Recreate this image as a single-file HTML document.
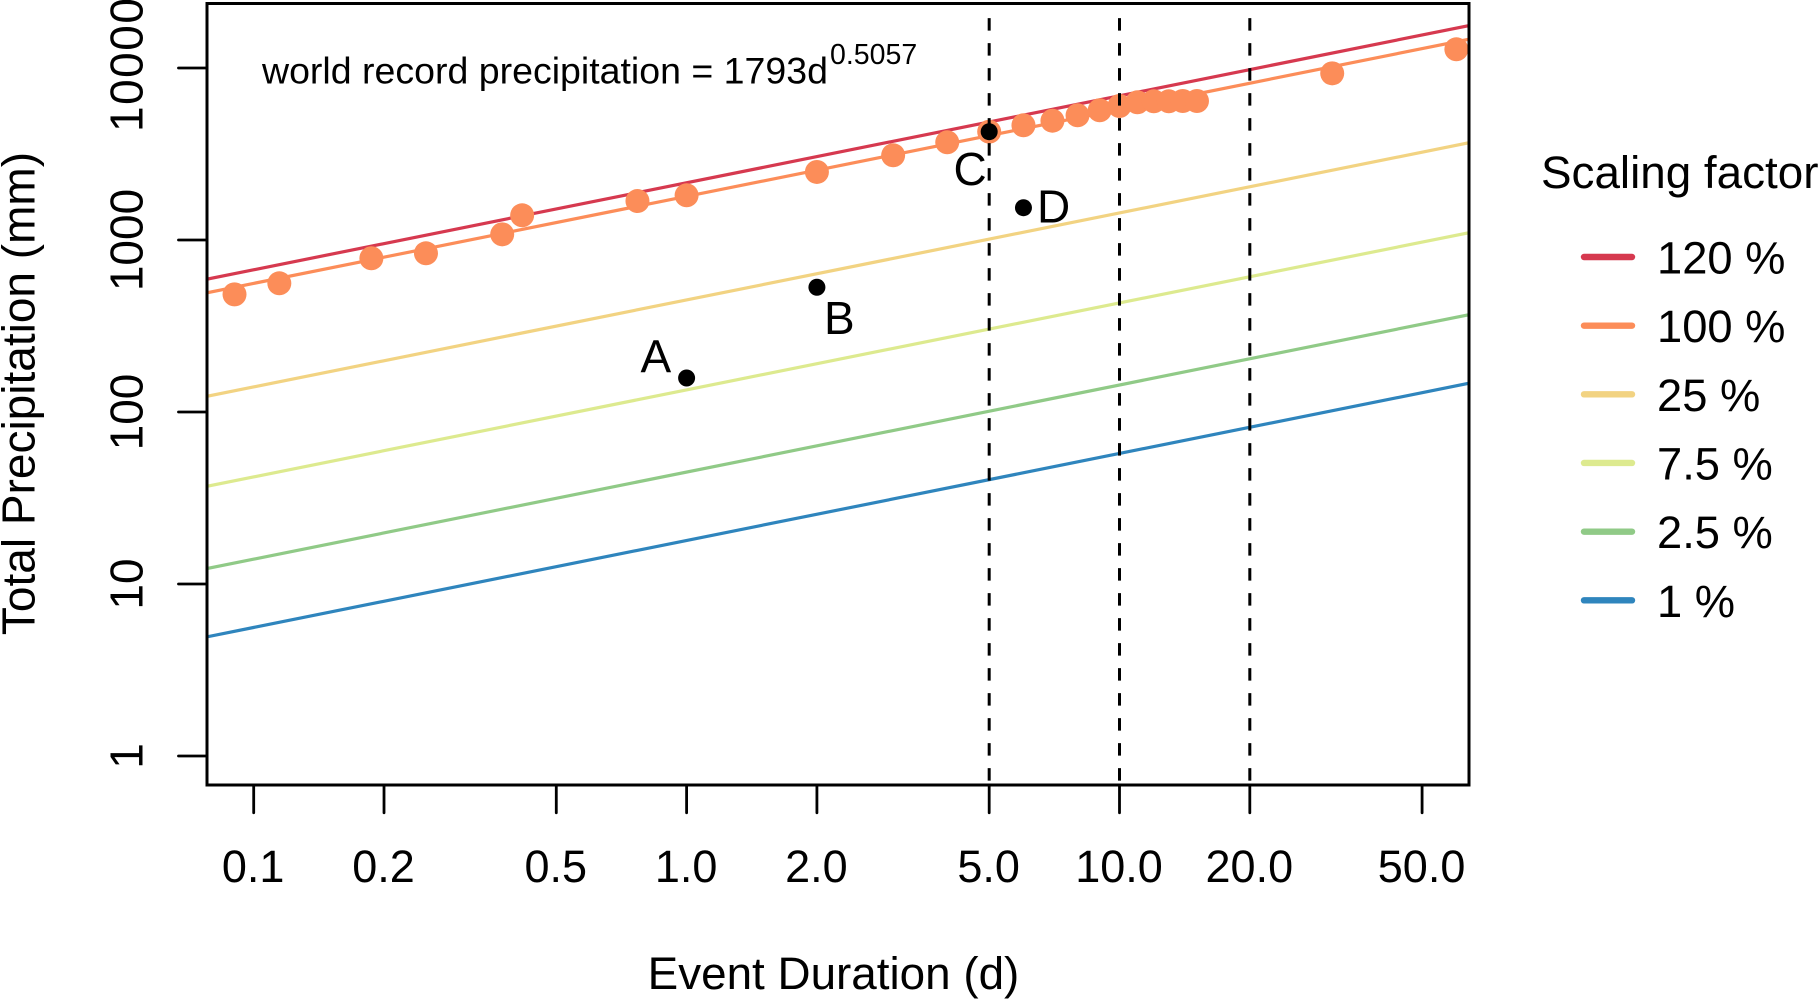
<!DOCTYPE html>
<html lang="en">
<head>
<meta charset="utf-8">
<title>World record precipitation scaling</title>
<style>
html,body{margin:0;padding:0;background:#fff;width:1818px;height:999px;overflow:hidden}
svg{display:block}
text{font-family:"Liberation Sans",Arial,sans-serif;fill:#000}
</style>
</head>
<body>
<svg id="chart" xmlns="http://www.w3.org/2000/svg" width="1818" height="999" viewBox="0 0 1818 999">
  <defs>
    <clipPath id="plot-clip"><rect x="207" y="3.5" width="1262" height="781.5"/></clipPath>
  </defs>
  <g id="lines" clip-path="url(#plot-clip)"></g>
  <g id="points" clip-path="url(#plot-clip)"></g>
  <g id="events" clip-path="url(#plot-clip)"></g>
  <g id="dashes"></g>
  <rect x="207" y="3.5" width="1262" height="781.5" fill="none" stroke="#000" stroke-width="3"/>
  <g id="x-axis"></g>
  <g id="y-axis"></g>
  <text x="833.5" y="989" font-size="45.8" text-anchor="middle">Event Duration (d)</text>
  <text transform="translate(34.5,393.5) rotate(-90)" font-size="46" text-anchor="middle">Total Precipitation (mm)</text>
  <text x="262" y="83.3" font-size="37.5">world record precipitation = 1793d</text>
  <text x="830" y="64" font-size="28.5">0.5057</text>
  <text x="1541" y="188" font-size="45.8">Scaling factor</text>
  <g id="legend"></g>
</svg>
<script>
// Axis ticks
const xTickValues = [0.1, 0.2, 0.5, 1, 2, 5, 10, 20, 50];
const xTickLabels = ["0.1", "0.2", "0.5", "1.0", "2.0", "5.0", "10.0", "20.0", "50.0"];
const yTickValues = [1, 10, 100, 1000, 10000];
const yTickLabels = ["1", "10", "100", "1000", "10000"];

// Scaling lines: values at the two ends of the plotted duration range
const lineDurations = [0.078, 64.2];
const line120 = [592, 17650];
const line100 = [493.5, 14710];
const line25 = [123.4, 3678];
const line7p5 = [37, 1103];
const line2p5 = [12.3, 368];
const line1 = [4.93, 147];
const seriesNames = ["120 %", "100 %", "25 %", "7.5 %", "2.5 %", "1 %"];
const seriesColors = ["#D6394F", "#FC8D59", "#F2D382", "#DDEA8F", "#90CA87", "#2F85BD"];
const seriesValues = [line120, line100, line25, line7p5, line2p5, line1];

// World record observations
const recordDurations = [0.0903, 0.1146, 0.187, 0.25, 0.375, 0.417, 0.77, 1, 2, 3, 4, 5, 6, 7, 8, 9, 10, 11, 12, 13, 14, 15.1, 31, 60];
const recordValues = [483, 560, 783, 837, 1079, 1392, 1685, 1819, 2486, 3108, 3698, 4263, 4645, 4938, 5309, 5677, 6012, 6318, 6403, 6403, 6430, 6430, 9311, 12848];

// Labelled events
const eventLabels = ["A", "B", "C", "D"];
const eventDurations = [1, 2, 5, 6];
const eventValues = [157.6, 531, 4263, 1541];

// Dashed reference lines
const dashDurations = [5, 10, 20];
const dashValueRange = [0.678, 19500];

const SVG_NS = "http://www.w3.org/2000/svg";
function xScale(d) { return 686.6 + 432.9 * Math.log10(d); }
function yScale(v) { return 756 - 172 * Math.log10(v); }
function make(tag, attrs, parent, txt) {
  const el = document.createElementNS(SVG_NS, tag);
  for (const k in attrs) el.setAttribute(k, attrs[k]);
  if (txt !== undefined) el.textContent = txt;
  parent.appendChild(el);
  return el;
}

const eventLabelPos = [[640.5, 372.7], [824, 334], [953.5, 185], [1037, 222.7]];

const linesG = document.getElementById("lines");
const pointsG = document.getElementById("points");
const eventsG = document.getElementById("events");
const dashesG = document.getElementById("dashes");
const xAxisG = document.getElementById("x-axis");
const yAxisG = document.getElementById("y-axis");
const legendG = document.getElementById("legend");
const svgRoot = document.getElementById("chart");

seriesValues.forEach(function (vals, i) {
  const line = make("line", {
    x1: xScale(lineDurations[0]), y1: yScale(vals[0]),
    x2: xScale(lineDurations[1]), y2: yScale(vals[1]),
    stroke: seriesColors[i], "stroke-width": 3.2
  }, linesG);
  
  
});

recordDurations.forEach(function (d, i) {
  const c = make("circle", { cx: xScale(d), cy: yScale(recordValues[i]), r: 12, fill: "#FC8D59" }, pointsG);
  
  
});

eventDurations.forEach(function (d, i) {
  const c = make("circle", { cx: xScale(d), cy: yScale(eventValues[i]), r: 8.5, fill: "#000" }, eventsG);
  
  
  const t = make("text", { x: eventLabelPos[i][0], y: eventLabelPos[i][1], "font-size": 46 }, svgRoot, eventLabels[i]);
  
  
});

dashDurations.forEach(function (d) {
  const l = make("line", {
    x1: xScale(d), x2: xScale(d),
    y1: yScale(dashValueRange[1]), y2: yScale(dashValueRange[0]),
    stroke: "#000", "stroke-width": 3, "stroke-dasharray": "12.5 12.5"
  }, dashesG);
  
  
});

xTickValues.forEach(function (v, i) {
  const px = xScale(v);
  const tick = make("line", { x1: px, x2: px, y1: 785, y2: 812.7, stroke: "#000", "stroke-width": 2.8, "stroke-linecap": "round" }, xAxisG);
  
  
  const t = make("text", { x: px - 0.5, y: 882, "font-size": 45, "text-anchor": "middle" }, xAxisG, xTickLabels[i]);
  
  
});

yTickValues.forEach(function (v, i) {
  const py = yScale(v);
  const tick = make("line", { x1: 178.5, x2: 207, y1: py, y2: py, stroke: "#000", "stroke-width": 2.8, "stroke-linecap": "round" }, yAxisG);
  
  
  // The widest label is spaced slightly looser in the reference
  const wide = yTickLabels[i].length >= 5;
  const t = make("text", { transform: "translate(142.5," + (wide ? py - 3.7 : py) + ") rotate(-90)", "font-size": 46, "text-anchor": "middle", "letter-spacing": wide ? 1.5 : 0 }, yAxisG, yTickLabels[i]);
  
  
});

seriesNames.forEach(function (name, i) {
  const rowY = 257 + i * 68.66;
  const swatch = make("line", { x1: 1584, x2: 1632, y1: rowY, y2: rowY, stroke: seriesColors[i], "stroke-width": 6.4, "stroke-linecap": "round" }, legendG);
  
  
  const t = make("text", { x: 1657, y: rowY + 16.5, "font-size": 45.3 }, legendG, name);
  
  
});
</script>
</body>
</html>
